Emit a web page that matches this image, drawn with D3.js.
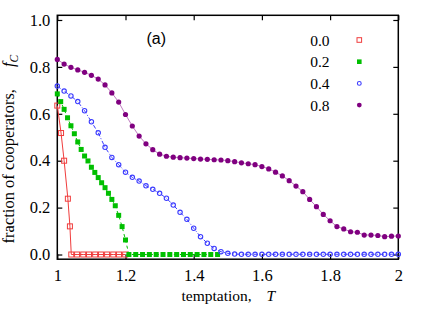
<!DOCTYPE html>
<html><head><meta charset="utf-8">
<script src="https://cdn.jsdelivr.net/npm/d3@7"></script>
<style>body{margin:0;background:#fff}svg{display:block}
.serif{font-family:'Liberation Serif','Times New Roman',serif !important}
</style>
</head><body>
<svg id="c" width="436" height="309"></svg>
<script>
// ---- data ----
const T0 = [1.0, 1.011, 1.02, 1.031, 1.037, 1.041, 1.058, 1.076, 1.093, 1.111, 1.128, 1.146, 1.164, 1.181, 1.199];
const F0 = [0.635, 0.518, 0.40, 0.238, 0.12, 0, 0, 0, 0, 0, 0, 0, 0, 0, 0];

const T2 = [1.00,1.01,1.02,1.03,1.04,1.05,1.06,1.07,1.08,1.09,1.10,1.11,1.12,1.13,1.14,1.15,1.16,1.17,1.18,1.19,1.20,1.21,
            1.23,1.25,1.27,1.29,1.31,1.33,1.35,1.37,1.39,1.41,1.43,1.45,1.47];
const F2 = [0.685,0.652,0.619,0.583,0.549,0.515,0.48,0.448,0.42,0.399,0.372,0.35,0.328,0.306,0.285,0.261,0.235,0.208,0.167,0.119,0.062,0,
            0,0,0,0,0,0,0,0,0,0,0,0,0];

const T4 = [1.00,1.02,1.04,1.06,1.08,1.10,1.12,1.14,1.16,1.18,1.20,1.22,1.24,1.26,1.28,1.30,1.32,1.34,1.36,1.38,1.40,1.42,1.44,1.46,1.48,1.50,
            1.52,1.54,1.56,1.58,1.60,1.62,1.64,1.66,1.68,1.70,1.72,1.74,1.76,1.78,1.80,1.82,1.84,1.86,1.88,1.90,1.92,1.94,1.96,1.98,2.00];
const F4 = [0.718,0.697,0.676,0.652,0.613,0.566,0.519,0.457,0.414,0.383,0.351,0.329,0.313,0.293,0.278,0.261,0.240,0.211,0.18,0.15,0.112,0.076,0.048,0.026,0.012,0.005,
            0.002,0.001,0.001,0.001,0.001,0.001,0.001,0.001,0.001,0.001,0.001,0.001,0.001,0.001,0.001,0.001,0.001,0.001,0.001,0.001,0.001,0.001,0.001,0.001,0.001];

const T8 = T4;
const F8 = [0.832,0.812,0.798,0.787,0.777,0.764,0.748,0.723,0.689,0.650,0.597,0.548,0.505,0.472,0.447,0.428,0.419,0.415,0.413,0.411,
            0.409,0.407,0.406,0.404,0.403,0.400,0.396,0.391,0.387,0.383,0.375,0.365,0.351,0.335,0.315,0.292,0.268,0.235,0.204,0.171,
            0.144,0.119,0.109,0.097,0.095,0.083,0.083,0.081,0.076,0.078,0.079];

const legendLabels = ["0.0", "0.2", "0.4", "0.8"];
const xTicks = [1, 1.2, 1.4, 1.6, 1.8, 2];
const xTickLabels = ["1", "1.2", "1.4", "1.6", "1.8", "2"];
const yTicks = [0, 0.2, 0.4, 0.6, 0.8, 1.0];

// ---- layout ----
const svg = d3.select("#c");
const L = 57.3, R = 398.3, TOP = 15.3, BOT = 259.2;
const x = d3.scaleLinear().domain([1, 2]).range([L, R]);
const y = d3.scaleLinear().domain([-0.02, 1.02]).range([BOT, TOP]);

// axes
const ax = (g, a) => { g.call(a); g.select(".domain").remove(); g.selectAll(".tick line").attr("stroke","#000").attr("stroke-width",1.2); };
svg.append("g").attr("transform",`translate(${L},0)`)
  .call(g => ax(g, d3.axisLeft(y).tickValues(yTicks).tickFormat(d3.format(".1f")).tickSize(-5).tickPadding(7)))
  .selectAll("text").attr("class","serif").style("font-size","16.5px").attr("fill","#000");
svg.append("g").attr("transform",`translate(${R},0)`)
  .call(g => ax(g, d3.axisRight(y).tickValues(yTicks).tickFormat("").tickSize(-5)));
svg.append("g").attr("transform",`translate(0,${BOT})`)
  .call(g => ax(g, d3.axisBottom(x).tickValues(xTicks).tickFormat((d,i)=>xTickLabels[i]).tickSize(-5).tickPadding(10)))
  .selectAll("text").attr("class","serif").style("font-size","16.5px").attr("fill","#000");
svg.append("g").attr("transform",`translate(0,${TOP})`)
  .call(g => ax(g, d3.axisTop(x).tickValues(xTicks).tickFormat("").tickSize(-5)));

// frame
svg.append("rect").attr("x",L).attr("y",TOP).attr("width",R-L).attr("height",BOT-TOP)
  .attr("fill","none").attr("stroke","#000").attr("stroke-width",1.5);

// series
const line = d3.line().x(d=>x(d[0])).y(d=>y(d[1]));
const zip = (a,b)=>a.map((v,i)=>[v,b[i]]);
const S = [
  {T:T0,F:F0,color:"#f03c3c",lc:"#f03c3c",dash:null,shape:"sq",fill:false},
  {T:T2,F:F2,color:"#00bf00",lc:"#00bf00",dash:"3,3",shape:"sq",fill:true},
  {T:T4,F:F4,color:"#3c3cff",lc:"#3c3cff",dash:"4,2,1,2",shape:"ci",fill:false},
  {T:T8,F:F8,color:"#800080",lc:"#c07cc0",dash:null,shape:"ci",fill:true}
];
S.forEach(s=>{
  const pts = zip(s.T,s.F);
  svg.append("path").datum(pts).attr("d",line).attr("fill","none")
    .attr("stroke",s.lc).attr("stroke-width",1).attr("stroke-dasharray",s.dash);
});
function marker(g, s, cx, cy, size){
  if(s.shape==="sq"){
    g.append("rect").attr("x",cx-size/2).attr("y",cy-size/2).attr("width",size).attr("height",size)
      .attr("fill",s.fill?s.color:"none").attr("stroke",s.color).attr("stroke-width",s.fill?0:1);
  } else {
    g.append("circle").attr("cx",cx).attr("cy",cy).attr("r",s.fill?size/2:size/2-0.5)
      .attr("fill",s.fill?s.color:"none").attr("stroke",s.color).attr("stroke-width",s.fill?0:1.1);
  }
}
S.forEach(s=>{
  const g = svg.append("g");
  zip(s.T,s.F).forEach(p=>marker(g,s,x(p[0]),y(p[1]), s.shape==="sq"?5:(s.fill?5.2:5.4)));
});

// legend
const lg = svg.append("g");
legendLabels.forEach((lab,i)=>{
  const cy = 40 + i*21.7;
  lg.append("text").attr("x",329.5).attr("y",cy+5.5).attr("text-anchor","end")
    .attr("class","serif").style("font-size","15.5px").text(lab);
  marker(lg, S[i], 359.3, cy, S[i].shape==="sq"?4.6:4.8);
});

// panel label
svg.append("text").attr("x",146.5).attr("y",43.5).style("font-family","'Liberation Sans',Arial,sans-serif")
  .style("font-size","16px").text("(a)");

// axis titles
svg.append("text").attr("x",181.5).attr("y",301).attr("class","serif").style("font-size","15.5px")
  .text("temptation,");
svg.append("text").attr("x",266.5).attr("y",301).attr("class","serif").style("font-size","15.5px")
  .attr("font-style","italic").text("T");
svg.append("text").attr("transform","translate(13.5,89) rotate(-90)")
  .attr("text-anchor","end").attr("class","serif").style("font-size","16.5px")
  .text("fraction of cooperators,");
const yt = svg.append("text").attr("transform","translate(13.5,67) rotate(-90)")
  .attr("text-anchor","start").attr("class","serif").style("font-size","16.5px");
yt.append("tspan").attr("font-style","italic").text("f");
yt.append("tspan").attr("font-style","italic").style("font-size","11.5px").attr("dy",4).text("C");
</script>
</body></html>
